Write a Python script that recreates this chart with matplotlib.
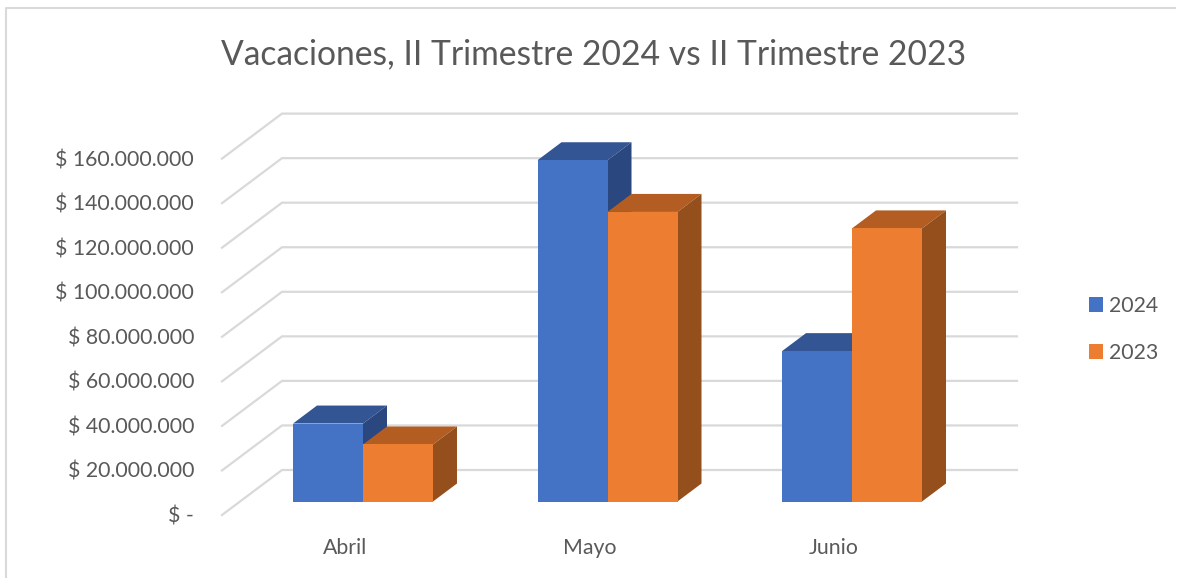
import matplotlib
matplotlib.use('Agg')
import matplotlib.pyplot as plt
from matplotlib.patches import Polygon, Patch

plt.rcParams['font.family'] = ['Lato', 'DejaVu Sans']

months = ['Abril', 'Mayo', 'Junio']
values_2024 = [35000000, 153200000, 67500000]
values_2023 = [25600000, 130000000, 122600000]
y_ticks = [0, 20000000, 40000000, 60000000, 80000000, 100000000, 120000000, 140000000, 160000000]
y_labels = ['$ -', '$ 20.000.000', '$ 40.000.000', '$ 60.000.000', '$ 80.000.000',
            '$ 100.000.000', '$ 120.000.000', '$ 140.000.000', '$ 160.000.000']

WIDTH, HEIGHT = 1179, 578
PX_PER_X = 244.5          # pixels between categories
PX_PER_Y = 2.2275e-6      # pixels per peso
X0_PX, Y0_PX = 363, 501.5 # where category 0 / value 0 sit on the bars' front face

TEXT = '#595959'
GRID = '#D9D9D9'


def dx(px):
    return px / PX_PER_X


def dy(px):
    return px / PX_PER_Y


def px_x(px):
    return (px - X0_PX) / PX_PER_X


def px_y(px):
    return (Y0_PX - px) / PX_PER_Y


def draw_bar(ax, left, value, front, top, side, z):
    w = dx(70)
    ddx, ddy = dx(24), dy(18)
    ax.bar(left, value, width=w, align='edge', color=front, zorder=z + 0.2)
    ax.add_patch(Polygon([(left, value), (left + ddx, value + ddy),
                          (left + w + ddx, value + ddy), (left + w, value)],
                         closed=True, color=top, lw=0, zorder=z))
    ax.add_patch(Polygon([(left + w, 0), (left + w + ddx, ddy),
                          (left + w + ddx, value + ddy), (left + w, value)],
                         closed=True, color=side, lw=0, zorder=z + 0.1))


fig = plt.figure(figsize=(WIDTH / 100, HEIGHT / 100), dpi=100, facecolor='white')
ax = fig.add_axes([0, 0, 1, 1])
ax.set_xlim(px_x(0), px_x(WIDTH))
ax.set_ylim(px_y(HEIGHT), px_y(0))
ax.axis('off')

# chart frame, only left and top edges show in the screenshot
ax.plot([px_x(6), px_x(6), px_x(1175)], [px_y(HEIGHT), px_y(8), px_y(8)], color=GRID, lw=1.5, zorder=1)

# gridlines: side wall then back wall
for tick, label in zip(y_ticks, y_labels):
    front_y = tick - dy(13.5)
    back_y = tick + dy(31.5)
    ax.plot([px_x(222), px_x(282), px_x(1017)], [front_y, back_y, back_y], color=GRID, lw=1.6, zorder=2,
            solid_joinstyle='miter')
    ax.text(px_x(194), front_y - dy(1.5), label, ha='right', va='center', fontsize=15.3, color=TEXT)

for i, month in enumerate(months):
    draw_bar(ax, i - dx(70), values_2024[i], '#4472C4', '#335593', '#2A4780', 3 + i)
    draw_bar(ax, i, values_2023[i], '#ED7D31', '#B35D22', '#954F1C', 3.5 + i)
    ax.text(i - dx(18), px_y(548), month, ha='center', va='center', fontsize=15.3, color=TEXT)

ax.text(px_x(594), px_y(54), 'Vacaciones, II Trimestre 2024 vs II Trimestre 2023',
        ha='center', va='center', fontsize=24.2, color=TEXT)

handles = [Patch(color='#4472C4', lw=0), Patch(color='#ED7D31', lw=0)]
ax.legend(handles, ['2024', '2023'], loc='center left', bbox_to_anchor=(1082.6 / WIDTH, 1 - 329.5 / HEIGHT),
          frameon=False, fontsize=15.3, labelcolor=TEXT, handlelength=0.66, handleheight=0.66,
          handletextpad=0.3, labelspacing=1.27, borderpad=0.3, borderaxespad=0)

fig.savefig('out.png', dpi=100)
